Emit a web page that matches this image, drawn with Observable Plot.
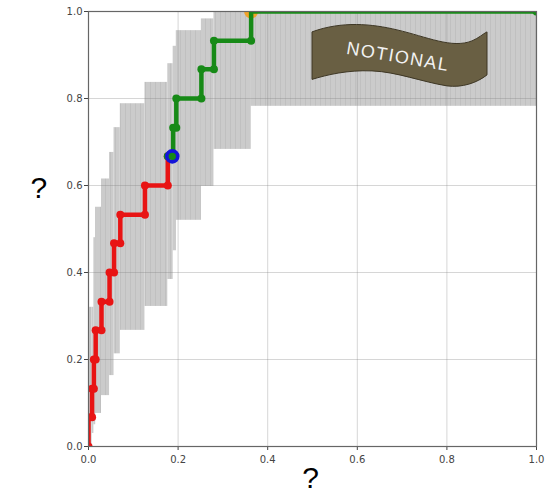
<!DOCTYPE html>
<html>
<head>
<meta charset="utf-8">
<script src="https://cdn.jsdelivr.net/npm/d3@7"></script>
<script src="https://cdn.jsdelivr.net/npm/@observablehq/plot@0.6"></script>
<style>
  html, body { margin: 0; padding: 0; background: #fff; }
</style>
</head>
<body>
<div id="chart"></div>
<script>
// ROC curve: true-positive rate reached at each step, and the false-positive rate where it rises
const tpr = [0.067, 0.133, 0.2, 0.267, 0.333, 0.4, 0.467, 0.533, 0.6, 0.667, 0.733, 0.8, 0.867, 0.933, 1.0];
const fpr = [0, 0.008, 0.012, 0.016, 0.029, 0.047, 0.057, 0.071, 0.126, 0.177, 0.189, 0.196, 0.252, 0.280, 0.363];

// confidence band over each step interval [fpr[i], fpr[i+1]]
const bandLo = [0.0, 0.03, 0.05, 0.076, 0.117, 0.163, 0.213, 0.267, 0.322, 0.384, 0.45, 0.52, 0.598, 0.683, 0.782];
const bandHi = [0.32, 0.32, 0.48, 0.55, 0.615, 0.676, 0.733, 0.788, 0.837, 0.88, 0.92, 0.956, 0.983, 1.0, 1.0];

// index of the operating point (end of the red segment)
const operatingStep = 9;
const operatingX = [0.187];
const operatingY = [0.667];

// first point reaching full recall
const perfectX = [0.363];
const perfectY = [1.0];

const tickValues = [0, 0.2, 0.4, 0.6, 0.8, 1.0];
const bannerText = "NOTIONAL";

// step vertices
const vertices = [{x: 0, y: 0}];
let level = 0;
fpr.forEach((x, i) => {
  if (i > 0) vertices.push({x, y: level});
  level = tpr[i];
  vertices.push({x, y: level});
});
vertices.push({x: 1, y: 1});
const splitAt = 2 * operatingStep + 1; // vertex index of (fpr[op], tpr[op])
const redPts = vertices.slice(0, splitAt + 1);
const greenPts = vertices.slice(splitAt);

const band = fpr.map((x, i) => ({
  x1: x,
  x2: i + 1 < fpr.length ? fpr[i + 1] : 1,
  y1: bandLo[i],
  y2: bandHi[i]
}));

const RED = "#e81414";
const GREEN = "#178a17";

const plot = Plot.plot({
  width: 550,
  height: 504,
  marginLeft: 88,
  marginRight: 14,
  marginTop: 11,
  marginBottom: 58,
  style: {fontFamily: "DejaVu Sans", fontSize: "10px", color: "#444", background: "#fff"},
  x: {domain: [0, 1], ticks: tickValues, tickFormat: d3.format(".1f"), tickSize: 4, label: null},
  y: {domain: [0, 1], ticks: tickValues, tickFormat: d3.format(".1f"), tickSize: 4, tickPadding: 2, label: null},
  marks: [
    Plot.rect(band, {x1: "x1", x2: "x2", y1: "y1", y2: "y2", fill: "url(#band-hatch)"}),
    Plot.gridX(tickValues, {stroke: "#808080", strokeOpacity: 0.32, strokeWidth: 1}),
    Plot.gridY(tickValues, {stroke: "#808080", strokeOpacity: 0.32, strokeWidth: 1}),
    Plot.line(redPts, {x: "x", y: "y", stroke: RED, strokeWidth: 4.5, clip: true}),
    Plot.dot(redPts, {x: "x", y: "y", r: 4, fill: RED, stroke: "none", clip: true}),
    Plot.dot(greenPts, {x: "x", y: "y", r: 4, fill: GREEN, stroke: "none", clip: true}),
    Plot.dot(perfectX.map((x, i) => ({x, y: perfectY[i]})), {x: "x", y: "y", r: 7, fill: "#f2a42a", stroke: "none", clip: true}),
    Plot.line(greenPts, {x: "x", y: "y", stroke: GREEN, strokeWidth: 4.5, clip: true}),
    Plot.dot(operatingX.map((x, i) => ({x, y: operatingY[i]})), {x: "x", y: "y", r: 5.5, fill: "none", stroke: "#1414d8", strokeWidth: 3.6}),
    Plot.frame({stroke: "#666", strokeWidth: 1.2}),
    Plot.text(["?"], {frameAnchor: "bottom", dx: -2, dy: 41, fontSize: 30, fontFamily: "Liberation Sans", fill: "#000"}),
    Plot.text(["?"], {frameAnchor: "left", dx: -58, dy: -41, fontSize: 30, fontFamily: "Liberation Sans", fill: "#000"})
  ]
});

const svg = d3.select(plot.tagName.toLowerCase() === "svg" ? plot : plot.querySelector("svg"));

// hatched grey fill for the confidence band
const defs = svg.insert("defs", ":first-child");
const pat = defs.append("pattern")
  .attr("id", "band-hatch")
  .attr("patternUnits", "userSpaceOnUse")
  .attr("width", 5)
  .attr("height", 4);
pat.append("rect").attr("width", 5).attr("height", 4).attr("fill", "#cbcbcb");
pat.append("rect").attr("width", 1).attr("height", 4).attr("fill", "#c0c0c0");

// "NOTIONAL" ribbon in the upper right
const sx = plot.scale("x"), sy = plot.scale("y");
const bx = sx.apply(0.5), by = sy.apply(0.952);
const ribbon = svg.append("g").attr("transform", `translate(${bx},${by})`);
ribbon.append("path")
  .attr("d", "M0,0 C30,-11 60,-8 85,-2 C115,5 140,17 160,9 C167,6 171,2 175,0 L175,43 C165,51 150,56 135,54 C110,50 85,40 60,39 C35,38 15,43 0,47.5 Z")
  .attr("fill", "#695f43")
  .attr("stroke", "#3e3725")
  .attr("stroke-width", 1);
ribbon.append("text")
  .attr("transform", "translate(85,30.5) rotate(9.6)")
  .attr("text-anchor", "middle")
  .attr("font-family", "Liberation Sans")
  .attr("font-size", 18)
  .attr("letter-spacing", 1.5)
  .attr("fill", "#f2f2f2")
  .text(bannerText);

document.getElementById("chart").appendChild(plot);
</script>
</body>
</html>
